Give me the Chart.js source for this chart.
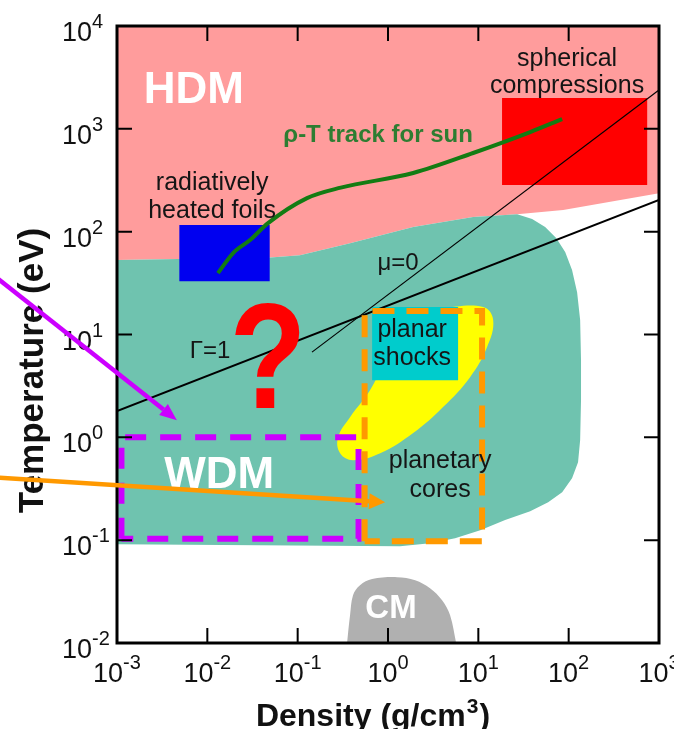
<!DOCTYPE html>
<html>
<head>
<meta charset="utf-8">
<script src="https://cdn.jsdelivr.net/npm/chart.js@4/dist/chart.umd.min.js"></script>
<style>
html, body { margin: 0; padding: 0; background: #fff; }
canvas { display: block; }
</style>
</head>
<body>
<canvas id="phase" width="674" height="729"></canvas>
<script>
// density in g/cm3, temperature in eV
const densityTicks = [1e-3, 1e-2, 1e-1, 1, 10, 100, 1000];
const densityExp = ["-3", "-2", "-1", "0", "1", "2", "3"];
const tempTicks = [1e-2, 1e-1, 1, 10, 100, 1000, 1e4];
const tempExp = ["-2", "-1", "0", "1", "2", "3", "4"];

// lower edge of the HDM region
const hdmEdgeX = [0.001, 0.05, 0.106, 0.38, 1.9, 8.75, 26.9, 86.9, 1000];
const hdmEdgeY = [53, 56, 59, 77, 111, 139, 148, 162, 237];

// WDM region outline
const wdmX = [0.001, 0.05, 0.106, 0.38, 1.9, 8.75, 26.9, 39.4, 54.9, 72.7, 91.5, 109, 124, 134, 137, 137,
  134, 127, 109, 84.7, 59.3, 37.5, 19.8, 10.5, 5.53, 2.92, 1.36, 0.001];
const wdmY = [53, 56, 59, 77, 111, 139, 148, 133, 111, 86.7, 63.4, 42.3, 25.8, 13.8, 5.64, 2.30,
  0.94, 0.574, 0.401, 0.293, 0.234, 0.191, 0.157, 0.125, 0.1045, 0.0935, 0.0875, 0.0914];

// condensed matter
const cmX = [0.352, 0.38, 0.41, 0.49, 0.667, 1.26, 2.0, 2.92, 3.97, 4.87, 5.68];
const cmY = [0.01, 0.0186, 0.0292, 0.0365, 0.0418, 0.0437, 0.0408, 0.0341, 0.026, 0.0186, 0.01];

// shock experiments (yellow)
const shockX = [3.78, 11.3, 14.6, 12.5, 8.1, 4.07, 1.9, 0.82, 0.41, 0.295, 0.28, 0.38, 0.634, 1.36, 3.78];
const shockY = [18.1, 18.5, 13.8, 7.54, 3.85, 1.97, 1.1, 0.70, 0.60, 0.70, 1.0, 1.57, 2.88, 9.9, 18.1];

const foilsX = [0.0049, 0.049];
const foilsY = [33, 116];
const sphereX = [18.3, 740];
const sphereY = [284, 2000];
const planarX = [0.667, 5.97];
const planarY = [3.6, 18.5];
const wdmBoxX = [0.00112, 0.472];
const wdmBoxY = [0.1035, 1.0];
const coresBoxX = [0.551, 11.0];
const coresBoxY = [0.0977, 16.9];

const gammaX = [0.001, 1000];
const gammaY = [1.8, 203];
const muX = [0.144, 1000];
const muY = [6.74, 2385];

// rho-T track for the sun
const sunX = [0.0131, 0.0193, 0.0297, 0.047, 0.127, 0.3, 1.9, 8.75, 37.5, 84.7];
const sunY = [39.5, 62, 82.8, 121, 212, 268, 372, 582, 930, 1245];

const purpleArrowX = [4e-5, 0.0046];
const purpleArrowY = [39.5, 1.47];
const orangeArrowX = [4e-5, 0.93];
const orangeArrowY = [0.41, 0.234];

const pts = (xs, ys) => xs.map((x, i) => ({ x, y: ys[i] }));
const rect = (xs, ys) => [
  { x: xs[0], y: ys[0] }, { x: xs[0], y: ys[1] }, { x: xs[1], y: ys[1] },
  { x: xs[1], y: ys[0] }, { x: xs[0], y: ys[0] }
];

const SANS = "'Liberation Sans', Arial, Helvetica, sans-serif";

// annotation anchors (centre x, baseline y) in data units
const notes = [
  { text: "HDM", x: 0.0071, y: 1780, font: "bold 44px " + SANS, color: "#fff" },
  { text: "WDM", x: 0.0135, y: 0.32, font: "bold 44px " + SANS, color: "#fff" },
  { text: "CM", x: 1.08, y: 0.0174, font: "bold 33px " + SANS, color: "#fff" },
  { text: "?", x: 0.047, y: 1.92, font: "bold 150px " + SANS, color: "#ff0000", squeeze: 0.84 },
  { text: "radiatively", x: 0.0113, y: 254, font: "25px " + SANS, color: "#151515" },
  { text: "heated foils", x: 0.0113, y: 136, font: "25px " + SANS, color: "#151515" },
  { text: "spherical", x: 96, y: 4080, font: "25px " + SANS, color: "#151515" },
  { text: "compressions", x: 96, y: 2230, font: "25px " + SANS, color: "#151515" },
  { text: "\u03c1-T track for sun", x: 0.776, y: 745, font: "bold 24px " + SANS, color: "#2e7d32" },
  { text: "\u03bc=0", x: 1.29, y: 42.3, font: "24px " + SANS, color: "#151515" },
  { text: "\u0393=1", x: 0.0107, y: 5.9, font: "24px " + SANS, color: "#151515" },
  { text: "planar", x: 1.85, y: 9.4, font: "25px " + SANS, color: "#151515" },
  { text: "shocks", x: 1.85, y: 5.04, font: "25px " + SANS, color: "#151515" },
  { text: "planetary", x: 3.78, y: 0.50, font: "25px " + SANS, color: "#151515" },
  { text: "cores", x: 3.78, y: 0.262, font: "25px " + SANS, color: "#151515" }
];

function area(data, color, fill, tension) {
  return { data, showLine: true, fill, backgroundColor: color, borderColor: color,
    borderWidth: 0, pointRadius: 0, tension: tension || 0 };
}
function stroke(data, color, width, dash) {
  return { data, showLine: true, fill: false, borderColor: color, borderWidth: width,
    borderDash: dash || [], pointRadius: 0, tension: 0 };
}

const sunTrack = stroke(pts(sunX, sunY), "#137c13", 4);
sunTrack.cubicInterpolationMode = "monotone";

// bottom to top
const layers = [
  area(pts(hdmEdgeX, hdmEdgeY), "#ff9c9c", "end"),
  area(pts(wdmX, wdmY), "#6fc3af", "shape"),
  area(pts(cmX, cmY), "#b0b0b0", "start", 0.35),
  area(rect(foilsX, foilsY), "#0000f0", "shape"),
  area(rect(sphereX, sphereY), "#ff0000", "shape"),
  area(pts(shockX, shockY), "#ffff00", "shape", 0.4),
  area(rect(planarX, planarY), "#00cccc", "shape"),
  stroke(pts(gammaX, gammaY), "#000", 2),
  stroke(pts(muX, muY), "#000", 1.2),
  sunTrack,
  stroke(rect(wdmBoxX, wdmBoxY), "#cc00ff", 6, [21, 14]),
  stroke(rect(coresBoxX, coresBoxY), "#ff9900", 6, [22, 12])
];
layers.forEach((d, i) => { d.order = layers.length - i; });

function arrow(ctx, xs, ys, color, sx, sy, head, half) {
  const x0 = sx.getPixelForValue(xs[0]), y0 = sy.getPixelForValue(ys[0]);
  const x1 = sx.getPixelForValue(xs[1]), y1 = sy.getPixelForValue(ys[1]);
  const a = Math.atan2(y1 - y0, x1 - x0);
  const bx = x1 - head * Math.cos(a), by = y1 - head * Math.sin(a);
  ctx.strokeStyle = color;
  ctx.fillStyle = color;
  ctx.lineWidth = 4.5;
  ctx.beginPath();
  ctx.moveTo(x0, y0);
  ctx.lineTo(bx, by);
  ctx.stroke();
  ctx.beginPath();
  ctx.moveTo(x1, y1);
  ctx.lineTo(bx + half * Math.sin(a), by - half * Math.cos(a));
  ctx.lineTo(bx - half * Math.sin(a), by + half * Math.cos(a));
  ctx.closePath();
  ctx.fill();
}

function power(ctx, exp, x, y, centred) {
  const base = "27px " + SANS, sup = "20px " + SANS;
  ctx.font = base;
  const wb = ctx.measureText("10").width;
  ctx.font = sup;
  const ws = ctx.measureText(exp).width;
  const x0 = centred ? x - (wb + ws) / 2 : x;
  ctx.textAlign = "left";
  ctx.font = base;
  ctx.fillText("10", x0, y);
  ctx.font = sup;
  ctx.fillText(exp, x0 + wb, y - 13);
}

const decor = {
  id: "decor",
  afterDraw(chart) {
    const { ctx, chartArea: ca } = chart;
    const sx = chart.scales.x, sy = chart.scales.y;
    ctx.save();
    ctx.textBaseline = "alphabetic";

    notes.forEach(n => {
      ctx.save();
      ctx.font = n.font;
      ctx.fillStyle = n.color;
      ctx.textAlign = "center";
      ctx.translate(sx.getPixelForValue(n.x), sy.getPixelForValue(n.y));
      if (n.squeeze) ctx.scale(n.squeeze, 1);
      ctx.fillText(n.text, 0, 0);
      ctx.restore();
    });

    // frame and inward ticks
    ctx.strokeStyle = "#000";
    ctx.lineWidth = 3;
    ctx.strokeRect(ca.left, ca.top, ca.right - ca.left, ca.bottom - ca.top);
    ctx.lineWidth = 2;
    ctx.beginPath();
    densityTicks.forEach(v => {
      const px = sx.getPixelForValue(v);
      ctx.moveTo(px, ca.bottom); ctx.lineTo(px, ca.bottom - 15);
      ctx.moveTo(px, ca.top); ctx.lineTo(px, ca.top + 15);
    });
    tempTicks.forEach(v => {
      const py = sy.getPixelForValue(v);
      ctx.moveTo(ca.left, py); ctx.lineTo(ca.left + 15, py);
      ctx.moveTo(ca.right, py); ctx.lineTo(ca.right - 15, py);
    });
    ctx.stroke();

    ctx.fillStyle = "#111";
    densityTicks.forEach((v, i) => power(ctx, densityExp[i], sx.getPixelForValue(v), ca.bottom + 39, true));
    tempTicks.forEach((v, i) => power(ctx, tempExp[i], 62, sy.getPixelForValue(v) + 15, false));

    // axis titles
    ctx.font = "bold 35px " + SANS;
    ctx.textAlign = "center";
    ctx.save();
    ctx.translate(43, (ca.top + ca.bottom) / 2 + 36);
    ctx.rotate(-Math.PI / 2);
    ctx.fillText("Temperature (eV)", 0, 0);
    ctx.restore();

    const t1 = "Density (g/cm", t2 = "3", t3 = ")";
    ctx.textAlign = "left";
    ctx.font = "bold 32px " + SANS;
    const w1 = ctx.measureText(t1).width, w3 = ctx.measureText(t3).width;
    ctx.font = "bold 21px " + SANS;
    const w2 = ctx.measureText(t2).width;
    const xt = 372 - (w1 + w2 + w3) / 2;
    ctx.font = "bold 32px " + SANS;
    ctx.fillText(t1, xt, 726);
    ctx.font = "bold 21px " + SANS;
    ctx.fillText(t2, xt + w1 + 1, 713);
    ctx.font = "bold 32px " + SANS;
    ctx.fillText(t3, xt + w1 + w2 + 2, 726);

    arrow(ctx, purpleArrowX, purpleArrowY, "#cc00ff", sx, sy, 17, 7);
    arrow(ctx, orangeArrowX, orangeArrowY, "#ff9900", sx, sy, 16, 8);
    ctx.restore();
  }
};

new Chart(document.getElementById("phase"), {
  type: "scatter",
  data: { datasets: layers },
  options: {
    responsive: false,
    animation: false,
    devicePixelRatio: 1,
    layout: { padding: { left: 117, right: 15, top: 26, bottom: 86 } },
    plugins: { legend: { display: false }, tooltip: { enabled: false } },
    scales: {
      x: { type: "logarithmic", min: 1e-3, max: 1e3, display: false },
      y: { type: "logarithmic", min: 1e-2, max: 1e4, display: false }
    }
  },
  plugins: [decor]
});
</script>
</body>
</html>
